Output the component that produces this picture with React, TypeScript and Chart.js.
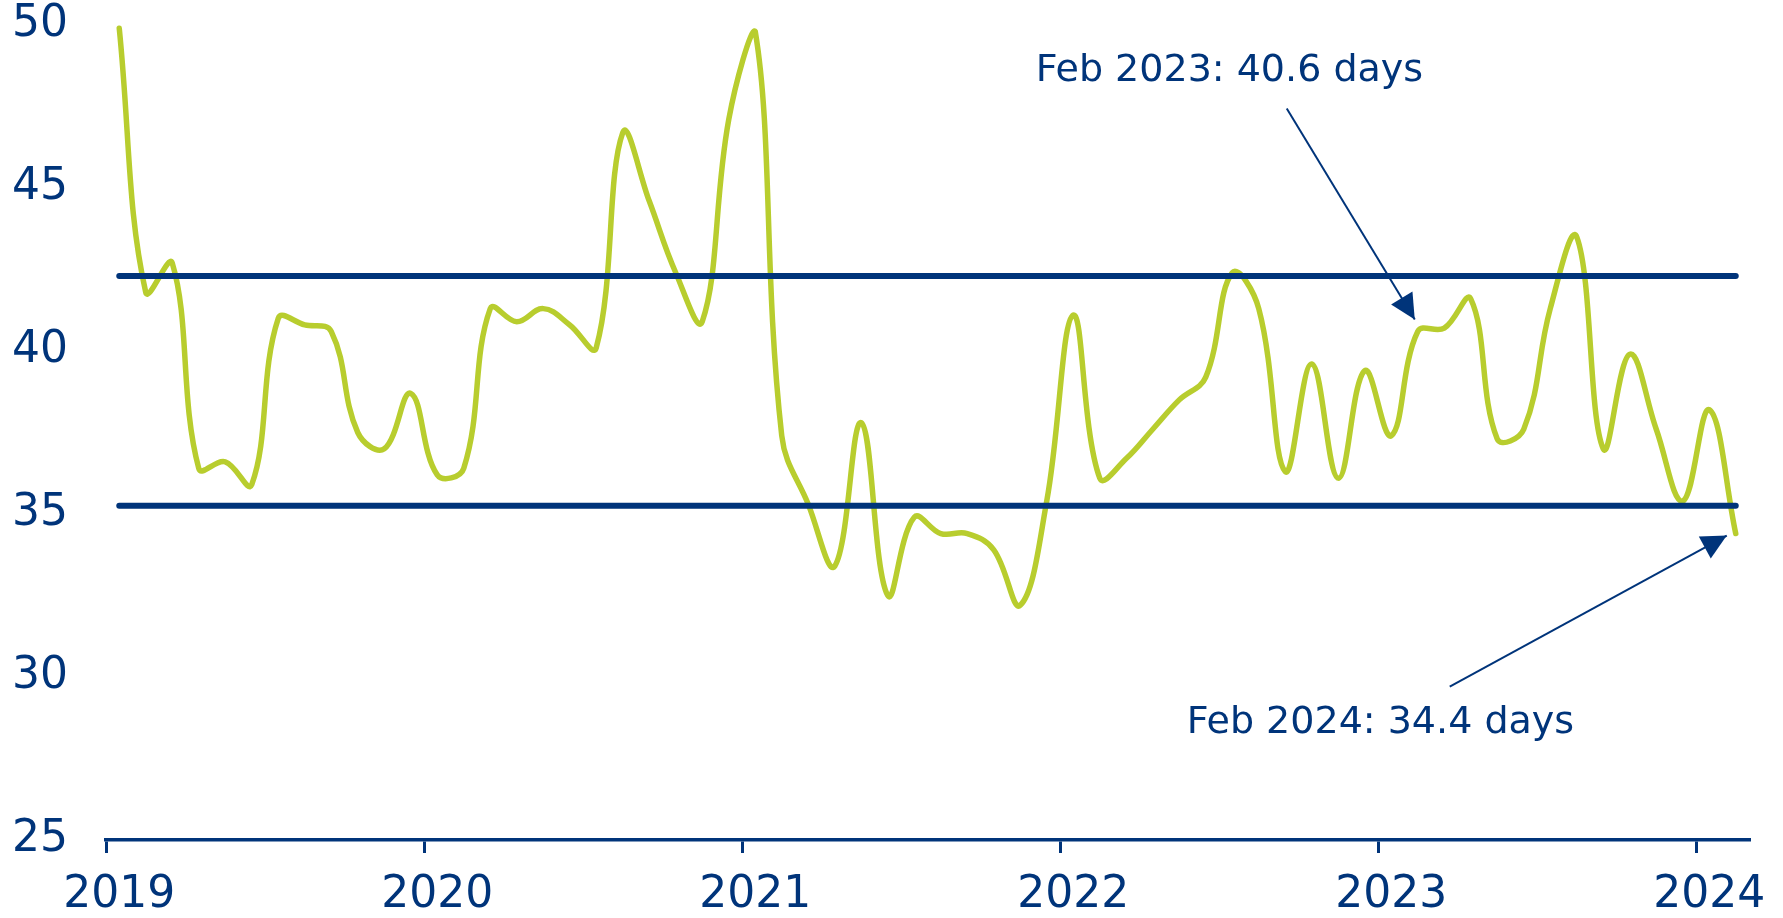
import React, { useEffect, useRef } from 'react';
import { Chart, registerables } from 'chart.js';

Chart.register(...registerables);

// ---------- DATA ----------
const categories: string[] = [
  'Jan 2019', 'Feb 2019', 'Mar 2019', 'Apr 2019', 'May 2019', 'Jun 2019', 'Jul 2019', 'Aug 2019', 'Sep 2019', 'Oct 2019', 'Nov 2019', 'Dec 2019',
  'Jan 2020', 'Feb 2020', 'Mar 2020', 'Apr 2020', 'May 2020', 'Jun 2020', 'Jul 2020', 'Aug 2020', 'Sep 2020', 'Oct 2020', 'Nov 2020', 'Dec 2020',
  'Jan 2021', 'Feb 2021', 'Mar 2021', 'Apr 2021', 'May 2021', 'Jun 2021', 'Jul 2021', 'Aug 2021', 'Sep 2021', 'Oct 2021', 'Nov 2021', 'Dec 2021',
  'Jan 2022', 'Feb 2022', 'Mar 2022', 'Apr 2022', 'May 2022', 'Jun 2022', 'Jul 2022', 'Aug 2022', 'Sep 2022', 'Oct 2022', 'Nov 2022', 'Dec 2022',
  'Jan 2023', 'Feb 2023', 'Mar 2023', 'Apr 2023', 'May 2023', 'Jun 2023', 'Jul 2023', 'Aug 2023', 'Sep 2023', 'Oct 2023', 'Nov 2023', 'Dec 2023',
  'Jan 2024', 'Feb 2024',
];

const daysValues: number[] = [
  49.9, 41.8, 42.7, 36.4, 36.6, 35.9, 41.0, 40.8, 40.6, 37.5, 37.0, 38.7,
  36.2, 36.4, 41.3, 40.9, 41.3, 40.8, 40.1, 46.7, 44.6, 42.4, 40.9, 47.1,
  49.8, 37.4, 35.3, 33.4, 37.8, 32.5, 34.9, 34.4, 34.4, 33.9, 32.2, 35.4,
  41.1, 36.1, 36.7, 37.6, 38.5, 39.2, 42.4, 41.3, 36.3, 39.6, 36.1, 39.4,
  37.4, 40.6, 40.7, 41.6, 37.3, 37.6, 41.3, 43.5, 37.0, 39.9, 37.6, 35.4,
  38.2, 34.4,
];

const upperBand = 42.3;
const lowerBand = 35.25;

const yMin = 25;
const yMax = 50;
const yStep = 5;

const annotationCategories = ['Feb 2023', 'Feb 2024'];
const annotationValues = [40.6, 34.4];
const annotationTexts = ['Feb 2023: 40.6 days', 'Feb 2024: 34.4 days'];

// ---------- STYLE ----------
const NAVY = '#00347A';
const GREEN = '#B8CD2E';
const FONT = "'DejaVu Sans', Verdana, sans-serif";

// offsets (px) of arrow tip / tail / text relative to the annotated point
const annotationLayout = [
  { tip: [-3, -12], tail: [-131, -223], text: [-382, -250] },
  { tip: [-9, 2], tail: [-286, 153], text: [-549, 199] },
];

const annotationPlugin = {
  id: 'arrowAnnotations',
  afterDatasetsDraw(chart: any) {
    const ctx = chart.ctx as CanvasRenderingContext2D;
    const xs = chart.scales.x;
    const ys = chart.scales.y;
    ctx.save();
    annotationCategories.forEach((cat, k) => {
      const idx = categories.indexOf(cat);
      const px = xs.getPixelForValue(idx);
      const py = ys.getPixelForValue(annotationValues[k]);
      const lay = annotationLayout[k];
      const tipX = px + lay.tip[0];
      const tipY = py + lay.tip[1];
      const tailX = px + lay.tail[0];
      const tailY = py + lay.tail[1];
      ctx.strokeStyle = NAVY;
      ctx.lineWidth = 2;
      ctx.beginPath();
      ctx.moveTo(tailX, tailY);
      ctx.lineTo(tipX, tipY);
      ctx.stroke();
      const ang = Math.atan2(tipY - tailY, tipX - tailX);
      const len = 25;
      const half = 12.5;
      const bx = tipX - len * Math.cos(ang);
      const by = tipY - len * Math.sin(ang);
      ctx.fillStyle = NAVY;
      ctx.beginPath();
      ctx.moveTo(tipX, tipY);
      ctx.lineTo(bx + half * Math.sin(ang), by - half * Math.cos(ang));
      ctx.lineTo(bx - half * Math.sin(ang), by + half * Math.cos(ang));
      ctx.closePath();
      ctx.fill();
      ctx.font = `38px ${FONT}`;
      ctx.textAlign = 'left';
      ctx.textBaseline = 'alphabetic';
      ctx.fillText(annotationTexts[k], px + lay.text[0], py + lay.text[1]);
    });
    ctx.restore();
  },
};

export default function App() {
  const canvasRef = useRef<HTMLCanvasElement | null>(null);

  useEffect(() => {
    if (!canvasRef.current) return;
    const chart = new Chart(canvasRef.current, {
      type: 'line',
      data: {
        labels: categories,
        datasets: [
          {
            label: 'Upper',
            data: categories.map(() => upperBand),
            borderColor: NAVY,
            borderWidth: 6,
            borderCapStyle: 'round',
            pointRadius: 0,
            tension: 0,
          },
          {
            label: 'Lower',
            data: categories.map(() => lowerBand),
            borderColor: NAVY,
            borderWidth: 6,
            borderCapStyle: 'round',
            pointRadius: 0,
            tension: 0,
          },
          {
            label: 'Days',
            data: daysValues,
            borderColor: GREEN,
            borderWidth: 5.5,
            borderCapStyle: 'round',
            borderJoinStyle: 'round',
            pointRadius: 0,
            tension: 0.4,
          },
        ],
      },
      options: {
        animation: false,
        responsive: false,
        layout: { padding: { top: 25, right: 34, bottom: 0, left: 0 } },
        plugins: {
          legend: { display: false },
          tooltip: { enabled: false },
        },
        scales: {
          x: {
            type: 'category',
            offset: true,
            afterFit: (scale: any) => {
              scale.height = 78;
            },
            grid: {
              offset: true,
              drawOnChartArea: false,
              drawTicks: true,
              tickLength: 13,
              lineWidth: 3,
              color: (c: any) => (c.index % 12 === 0 ? NAVY : 'rgba(0,0,0,0)'),
            },
            border: { display: true, color: NAVY, width: 3.5 },
            ticks: {
              autoSkip: false,
              maxRotation: 0,
              minRotation: 0,
              padding: 16,
              color: NAVY,
              font: { family: FONT, size: 44 },
              callback: (_v: any, i: number) =>
                categories[i].startsWith('Jan') ? categories[i].slice(4) : '',
            },
          },
          y: {
            min: yMin,
            max: yMax,
            afterFit: (scale: any) => {
              scale.width = 106;
              scale.paddingTop = 20;
              scale.paddingBottom = 20;
            },
            grid: { display: false, drawTicks: false },
            border: { display: false },
            ticks: {
              stepSize: yStep,
              padding: 38,
              color: NAVY,
              font: { family: FONT, size: 44 },
            },
          },
        },
      },
      plugins: [annotationPlugin],
    } as any);
    return () => chart.destroy();
  }, []);

  return (
    <div style={{ position: 'absolute', left: 0, top: 0, width: 1783, height: 918, background: '#fff' }}>
      <canvas ref={canvasRef} width={1783} height={918} style={{ width: 1783, height: 918, display: 'block' }} />
    </div>
  );
}
